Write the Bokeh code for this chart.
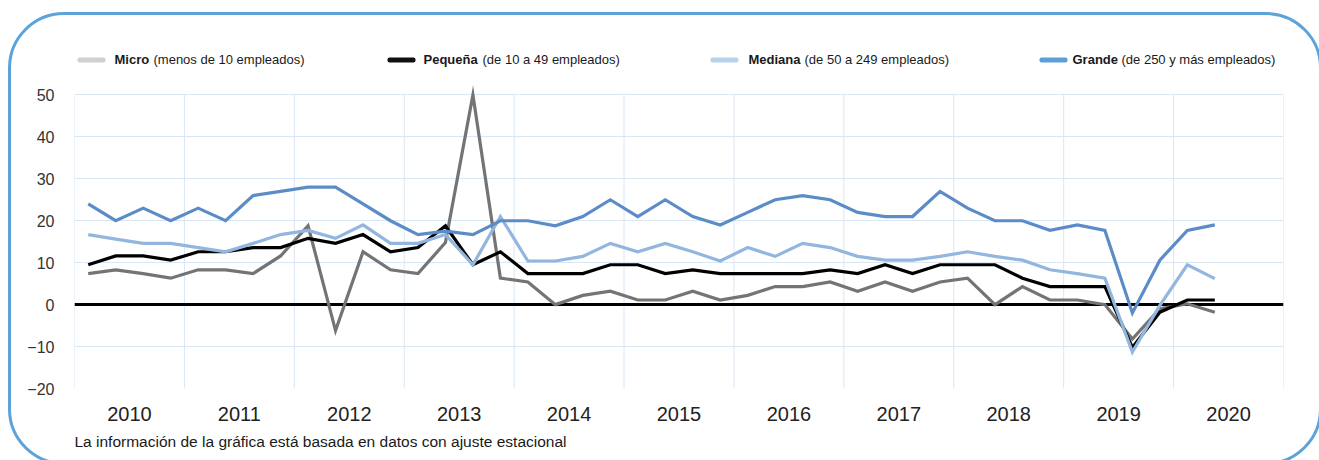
from bokeh.plotting import figure
from bokeh.models import Range1d, FixedTicker, Span, Label, BoxAnnotation, Title, InlineStyleSheet
from bokeh.embed import file_html
from bokeh.resources import INLINE

years = list(range(2010, 2021))
quarters = ["T1", "T2", "T3", "T4"]

micro = [7.4, 8.3, 7.4, 6.3, 8.3, 8.3, 7.4, 11.6, 18.8, -6.2, 12.6, 8.3, 7.4,
         14.8, 50.0, 6.3, 5.4, 0.0, 2.2, 3.2, 1.1, 1.1, 3.2, 1.1, 2.2, 4.3, 4.3, 5.4,
         3.2, 5.4, 3.2, 5.4, 6.3, 0.0, 4.3, 1.1, 1.1, 0.0, -8.2, -1.0, 0.2, -1.8]
pequena = [9.5, 11.6, 11.6, 10.6, 12.6, 12.6, 13.6, 13.6, 15.8, 14.6, 16.7, 12.6, 13.6,
           18.8, 9.5, 12.6, 7.4, 7.4, 7.4, 9.5, 9.5, 7.4, 8.3, 7.4, 7.4, 7.4, 7.4, 8.3,
           7.4, 9.5, 7.4, 9.5, 9.5, 9.5, 6.3, 4.3, 4.3, 4.3, -10.2, -1.8, 1.1, 1.1]
mediana = [16.7, 15.6, 14.6, 14.6, 13.6, 12.6, 14.6, 16.7, 17.7, 15.8, 19.0, 14.6, 14.6,
           16.7, 9.5, 21.0, 10.4, 10.4, 11.5, 14.6, 12.6, 14.6, 12.6, 10.4, 13.6, 11.5, 14.6, 13.6,
           11.5, 10.6, 10.6, 11.5, 12.6, 11.5, 10.6, 8.3, 7.4, 6.3, -11.3, -0.2, 9.5, 6.2]
grande = [24, 20, 23, 20, 23, 20, 26, 27, 28, 28, 24, 20, 16.7,
          17.5, 16.7, 20, 20, 18.8, 21, 25, 21, 25, 21, 19, 22, 25, 26, 25,
          22, 21, 21, 27, 23, 20, 20, 17.7, 19, 17.7, -2, 10.6, 17.7, 19]

y_ticks = list(range(-20, 51, 10))

series_labels = [("Micro", "(menos de 10 empleados)"),
                 ("Pequeña", "(de 10 a 49 empleados)"),
                 ("Mediana", "(de 50 a 249 empleados)"),
                 ("Grande", "(de 250 y más empleados)")]
footnote = "La información de la gráfica está basada en datos con ajuste estacional"

# x position of each quarter: centred inside its year band
n = len(grande)
xs = [years[i // 4] + (i % 4 - 1.5) / 4 for i in range(n)]

# ---- layout constants ----
W, H = 1319, 460
B_LEFT, B_RIGHT, B_TOP, B_BOTTOM = 74, 36, 35, 72
PX_PER_UNIT = 293.6 / 70.0          # vertical scale of the value axis
Y_MIN = y_ticks[0]
Y_MAX_FRAME = Y_MIN + (H - B_TOP - B_BOTTOM) / PX_PER_UNIT   # room above 50 for legend

FONT = "Liberation Sans"
GRID = "#d9e6f3"
TXT = "#1a1a1a"

css = InlineStyleSheet(css="""
:host { position: relative; overflow: hidden; }
:host::after {
  content: ""; position: absolute; pointer-events: none;
  left: 8px; top: 12px; right: -3px; bottom: -5px;
  border: 3px solid #5ba3d9; border-radius: 56px;
}
""")

p = figure(width=W, height=H, output_backend="svg", toolbar_location=None,
           x_range=Range1d(years[0] - 0.5, years[-1] + 0.5),
           y_range=Range1d(Y_MIN, Y_MAX_FRAME),
           min_border_left=B_LEFT, min_border_right=B_RIGHT,
           min_border_top=B_TOP, min_border_bottom=B_BOTTOM)
p.stylesheets = [css]
p.background_fill_color = "white"
p.border_fill_color = "white"
p.outline_line_color = None

# axes
p.xaxis.ticker = FixedTicker(ticks=years)
p.xaxis.formatter.use_scientific = False
p.xaxis.axis_line_color = None
p.xaxis.major_tick_line_color = None
p.xaxis.minor_tick_line_color = None
p.xaxis.major_label_standoff = 12
p.xaxis.major_label_text_font = FONT
p.xaxis.major_label_text_font_size = "20px"
p.xaxis.major_label_text_color = "#222222"

p.yaxis.ticker = FixedTicker(ticks=y_ticks)
p.yaxis.axis_line_color = None
p.yaxis.major_tick_line_color = None
p.yaxis.minor_tick_line_color = None
p.yaxis.major_label_standoff = 14
p.yaxis.major_label_text_font = FONT
p.yaxis.major_label_text_font_size = "16px"
p.yaxis.major_label_text_color = "#333333"

# grid: horizontal lines at the value ticks, vertical lines at year boundaries
p.ygrid.grid_line_color = GRID
p.ygrid.ticker = FixedTicker(ticks=y_ticks)
p.xgrid.visible = False
edges = [y - 0.5 for y in years] + [years[-1] + 0.5]
p.segment(x0=edges, x1=edges, y0=[y_ticks[0]] * len(edges), y1=[y_ticks[-1]] * len(edges),
          line_color=GRID, line_width=1, level="underlay")

p.add_layout(Span(location=0, dimension="width", line_color="black",
                  line_width=3, level="underlay"))

line_colors = ["#747474", "#000000", "#93b6df", "#5b8cc8"]
swatch_colors = ["#d0d0d0", "#111111", "#b8d2ec", "#5b9fd5"]
for vals, c in zip([micro, pequena, mediana, grande], line_colors):
    p.line(xs, vals, line_color=c, line_width=3.2, line_join="miter")

# legend (frame-relative screen units)
leg_y = 329
swatch_x = [3, 313, 636, 965]
bold_x = [40, 349, 674, 998]
reg_x = [79, 408, 730, 1047]
for (b, r), sc, sx, bx, rx in zip(series_labels, swatch_colors, swatch_x, bold_x, reg_x):
    p.add_layout(BoxAnnotation(left=sx, right=sx + 28, top=leg_y + 2, bottom=leg_y - 3,
                               left_units="screen", right_units="screen",
                               top_units="screen", bottom_units="screen",
                               fill_color=sc, fill_alpha=1, line_color=None,
                               border_radius=2))
    p.add_layout(Label(x=bx, y=leg_y, x_units="screen", y_units="screen", text=b,
                       text_font=FONT, text_font_size="13px", text_font_style="bold",
                       text_color=TXT, text_baseline="middle"))
    p.add_layout(Label(x=rx, y=leg_y, x_units="screen", y_units="screen", text=r,
                       text_font=FONT, text_font_size="13px",
                       text_color=TXT, text_baseline="middle"))

p.add_layout(Title(text=footnote, align="left", text_font=FONT, text_font_size="15.5px",
                   text_font_style="normal", text_color=TXT, standoff=15), "below")

open("out.html", "w").write(file_html(p, INLINE))
